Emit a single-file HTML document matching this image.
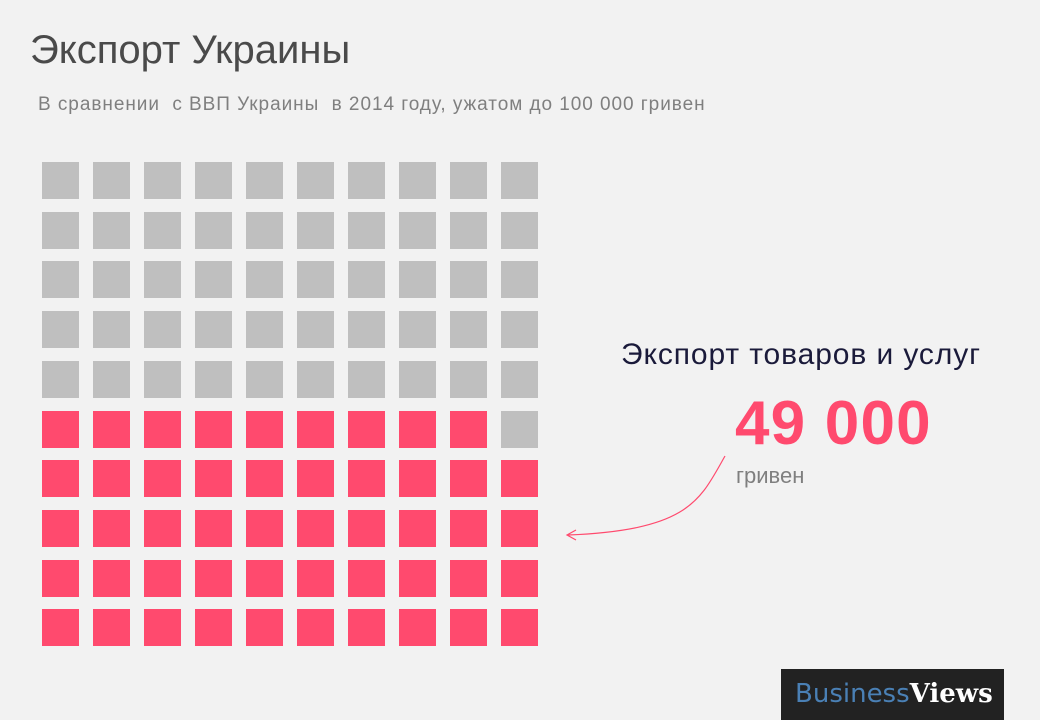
<!DOCTYPE html>
<html><head><meta charset="utf-8"><style>
body{margin:0;width:1040px;height:720px;background:#f2f2f2;position:relative;overflow:hidden;font-family:"Liberation Sans","DejaVu Sans",sans-serif}
.t{position:absolute;white-space:nowrap}
.sq{position:absolute;width:37px;height:37px}
</style></head><body>
<div class="t" style="left:30px;top:28px;font-size:40px;color:#4a4a4a;letter-spacing:0px">Экспорт Украины</div>
<div class="t" style="left:38px;top:94px;font-size:19px;color:#7f7f7f;letter-spacing:0.95px">В сравнении &nbsp;с ВВП Украины &nbsp;в 2014 году, ужатом до 100 000 гривен</div>
<div id="g"></div>
<script>
var g=document.getElementById('g'),h='';
for(var r=0;r<10;r++)for(var c=0;c<10;c++){
var pink=(r>=6)||(r==5&&c<9);
h+='<div class="sq" style="left:'+(42+c*51)+'px;top:'+Math.round(162+r*49.7)+'px;background:'+(pink?'#ff4a6e':'#bfbfbf')+'"></div>';}
g.innerHTML=h;
</script>
<div class="t" style="left:621px;top:338px;font-size:30px;color:#1a1a3a;letter-spacing:0.9px">Экспорт товаров и услуг</div>
<div class="t" style="left:735px;top:388px;font-size:62px;font-weight:bold;color:#ff4a6e;letter-spacing:1.2px">49 000</div>
<div class="t" style="left:736px;top:463px;font-size:22px;color:#7f7f7f">гривен</div>
<svg style="position:absolute;left:0;top:0" width="1040" height="720">
<path d="M725 456 C700 500,690 530,568 535" fill="none" stroke="#ff4a6e" stroke-width="1.2"/>
<path d="M576 530 L567 535 L576 540" fill="none" stroke="#ff4a6e" stroke-width="1.2"/>
</svg>
<div style="position:absolute;left:781px;top:669px;width:223px;height:51px;background:#222"></div>
<div class="t" style="left:795px;top:677px;font-size:28px;"><span style="color:#4a80b5;font-family:'DejaVu Sans',sans-serif;font-size:26px">Business</span><span style="color:#fff;font-weight:bold;font-family:'DejaVu Serif','Liberation Serif',serif;font-size:26px">Views</span></div>
</body></html>
